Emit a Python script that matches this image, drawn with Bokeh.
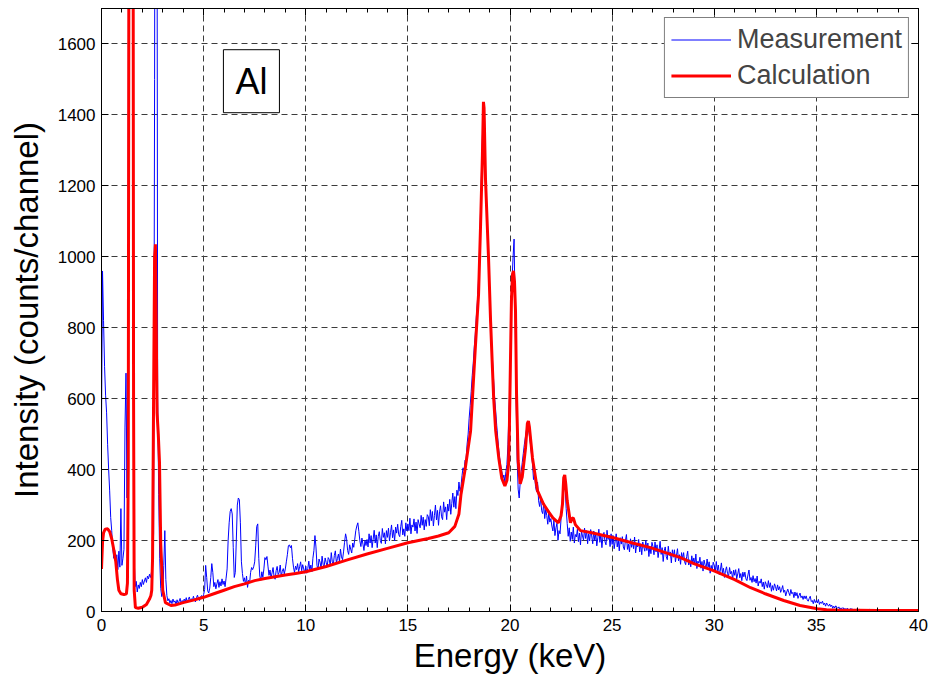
import numpy as np
from bokeh.plotting import figure
from bokeh.models import (Range1d, LinearAxis, SingleIntervalTicker, Label,
                          Legend, LegendItem, ColumnDataSource)
from bokeh.embed import file_html
from bokeh.resources import INLINE

FONT = "Liberation Sans"

# Measured spectrum: one list per keV (channels of 0.05 keV)
measurement_segments = [
    [530, 960, 820, 690, 610, 560, 470, 400, 340, 265, 228, 180, 150, 172, 135, 160, 118, 170, 125, 290],
    [130, 150, 175, 520, 672, 320, 900, 3000, 6000, 6000, 4000, 1200, 150, 70, 85, 55, 75, 65, 82, 70],
    [90, 76, 86, 95, 82, 100, 92, 105, 96, 112, 125, 220, 1500, 4000, 3000, 600, 330, 150, 65, 42],
    [55, 130, 228, 90, 45, 30, 36, 24, 31, 22, 35, 26, 30, 20, 33, 24, 29, 37, 23, 31],
    [26, 35, 28, 39, 24, 34, 41, 29, 36, 31, 43, 33, 27, 39, 46, 36, 31, 41, 45, 38],
    [48, 62, 130, 96, 58, 52, 66, 96, 135, 110, 70, 82, 64, 78, 90, 68, 84, 72, 92, 76],
    [86, 70, 94, 120, 200, 250, 282, 290, 275, 180, 96, 110, 200, 300, 320, 315, 250, 140, 107, 85],
    [95, 75, 100, 68, 88, 80, 110, 124, 118, 126, 140, 185, 240, 247, 150, 100, 88, 112, 96, 120],
    [152, 146, 155, 128, 102, 117, 95, 109, 124, 98, 91, 115, 127, 104, 110, 131, 99, 113, 121, 106],
    [120, 140, 160, 185, 188, 180, 186, 150, 125, 110, 128, 118, 135, 112, 126, 140, 115, 132, 120, 108],
    [128, 108, 121, 142, 115, 131, 112, 150, 172, 214, 182, 130, 118, 148, 139, 122, 156, 133, 127, 151],
    [138, 126, 152, 147, 129, 166, 140, 133, 158, 171, 137, 149, 162, 141, 176, 154, 146, 168, 195, 219],
    [205, 172, 161, 188, 176, 165, 193, 181, 204, 228, 241, 250, 226, 199, 183, 207, 190, 172, 201, 186],
    [203, 182, 219, 193, 214, 180, 204, 229, 193, 216, 180, 212, 225, 200, 192, 234, 209, 222, 191, 228],
    [209, 235, 199, 222, 244, 208, 230, 199, 238, 221, 246, 217, 211, 239, 257, 216, 233, 212, 250, 227],
    [247, 228, 263, 219, 244, 238, 261, 227, 252, 220, 259, 247, 236, 271, 243, 266, 230, 259, 240, 273],
    [268, 242, 287, 256, 282, 241, 271, 300, 258, 285, 243, 281, 298, 267, 259, 309, 280, 295, 259, 303],
    [283, 316, 274, 305, 334, 294, 324, 290, 342, 327, 365, 339, 352, 383, 405, 397, 427, 430, 472, 500],
    [545, 580, 620, 665, 700, 745, 780, 830, 870, 925, 1000, 1110, 1230, 1340, 1420, 1400, 1250, 1140, 1060, 990],
    [900, 830, 760, 700, 650, 600, 565, 525, 490, 455, 430, 410, 395, 375, 385, 365, 395, 415, 470, 570],
    [640, 800, 930, 1000, 1050, 850, 600, 430, 345, 320, 365, 395, 420, 445, 470, 490, 510, 525, 520, 495],
    [472, 445, 418, 372, 390, 352, 338, 365, 312, 296, 321, 284, 276, 305, 262, 288, 271, 246, 279, 252],
    [262, 241, 227, 258, 214, 236, 249, 201, 228, 219, 262, 300, 360, 380, 350, 290, 248, 212, 236, 198],
    [224, 203, 238, 193, 217, 210, 232, 197, 221, 188, 226, 213, 201, 235, 206, 228, 191, 219, 199, 231],
    [213, 191, 227, 200, 220, 185, 208, 232, 195, 217, 180, 211, 223, 197, 188, 229, 203, 215, 183, 219],
    [189, 214, 177, 199, 219, 182, 203, 171, 208, 190, 211, 182, 174, 200, 217, 175, 190, 168, 205, 181],
    [197, 177, 210, 165, 189, 182, 203, 168, 191, 160, 196, 182, 170, 201, 172, 193, 155, 183, 163, 195],
    [183, 160, 196, 168, 188, 152, 174, 198, 161, 180, 141, 171, 182, 155, 146, 184, 158, 168, 137, 174],
    [153, 174, 140, 158, 177, 143, 160, 133, 166, 149, 166, 140, 132, 155, 170, 131, 146, 126, 157, 136],
    [151, 132, 162, 121, 142, 136, 153, 122, 141, 114, 145, 132, 122, 148, 125, 140, 108, 130, 114, 139],
    [130, 112, 141, 115, 131, 104, 117, 137, 109, 122, 96, 115, 126, 107, 99, 124, 106, 113, 91, 117],
    [102, 118, 92, 106, 121, 95, 107, 87, 111, 98, 111, 92, 87, 103, 117, 88, 96, 82, 101, 84],
    [93, 80, 100, 72, 85, 80, 92, 70, 83, 63, 84, 76, 67, 87, 68, 81, 57, 73, 60, 78],
    [70, 58, 75, 61, 70, 54, 62, 73, 54, 60, 44, 55, 63, 53, 45, 62, 50, 54, 39, 55],
    [44, 53, 37, 45, 52, 39, 44, 34, 44, 36, 44, 33, 29, 37, 43, 28, 31, 22, 34, 25],
    [31, 24, 34, 20, 27, 23, 29, 19, 24, 15, 24, 19, 15, 21, 14, 18, 9, 15, 10, 16],
    [12, 9, 13, 7, 10, 8, 11, 6, 9, 5, 9, 7, 5, 8, 6, 8, 4, 6, 4, 7],
    [5, 4, 6, 3, 5, 4, 5, 3, 4, 5, 3, 4, 6, 3, 4, 5, 3, 4, 5, 3],
    [4, 5, 3, 4, 6, 3, 4, 3, 5, 4, 3, 5, 4, 3, 4, 6, 3, 4, 3, 5],
    [4, 3, 5, 4, 3, 4, 5, 3, 4, 3, 5, 4, 3, 4, 5, 3, 4, 3, 4, 5],
    [4],
]

# Calculated spectrum
calc_energy = [0.0, 0.05, 0.1, 0.18, 0.3, 0.4, 0.5, 0.6, 0.7, 0.78, 0.85, 0.95, 1.1, 1.22,
               1.27, 1.31, 1.34, 1.40, 1.48, 1.54, 1.57, 1.60, 1.66, 1.8, 2.0, 2.2, 2.35, 2.42,
               2.46, 2.50, 2.55, 2.60, 2.64, 2.68, 2.72, 2.78, 2.84, 2.90, 3.0, 3.13, 3.4, 3.6,
               4.0, 4.5, 5.0, 5.5, 6.0, 6.5, 7.0, 7.5, 8.0, 8.5, 9.0, 9.5, 10.0, 11.0, 12.0,
               13.0, 14.0, 15.0, 16.0, 16.5, 17.0, 17.3, 17.5, 17.6, 17.8, 18.07, 18.3, 18.46,
               18.56, 18.65, 18.7, 18.73, 18.8, 18.95, 19.05, 19.14, 19.2, 19.3, 19.45, 19.6,
               19.75, 19.85, 19.93, 19.97, 20.02, 20.07, 20.12, 20.17, 20.22, 20.27, 20.32,
               20.4, 20.5, 20.6, 20.76, 20.85, 20.9, 20.95, 21.1, 21.35, 21.64, 21.9, 22.1,
               22.37, 22.5, 22.57, 22.63, 22.68, 22.73, 22.8, 22.96, 23.03, 23.1, 23.2, 23.45,
               24.0, 25.07, 26.0, 26.88, 27.5, 28.35, 29.0, 29.96, 31.0, 31.78, 32.5, 33.4,
               34.2, 35.05, 35.5, 36.0, 38.0, 40.0]
calc_counts = [120, 195, 222, 232, 233, 225, 205, 175, 140, 90, 60, 50, 48, 50,
               80, 400, 1800, 6000, 6000, 2500, 600, 60, 11, 9, 12, 20, 35, 45,
               60, 150, 600, 1000, 1035, 800, 560, 500, 420, 190, 60, 25, 17, 18,
               25, 32, 40, 50, 60, 70, 78, 87, 93, 98, 103, 107, 112, 127, 145,
               162, 178, 194, 206, 213, 222, 240, 275, 330, 400, 509, 742, 894,
               1091, 1288, 1437, 1420, 1220, 995, 818, 686, 602, 509, 433, 375,
               354, 370, 416, 517, 697, 875, 950, 960, 930, 846, 613,
               425, 360, 380, 461, 530, 537, 520, 433, 340, 303, 280, 264,
               250, 270, 303, 377, 385, 360, 312, 250, 262, 264, 245, 228,
               222, 208, 193, 180, 168, 152, 135, 115, 90, 67, 50, 31,
               17, 8, 5, 4, 3, 3]

x_ticks_interval = 5
y_ticks_interval = 200

meas_x, meas_y = [], []
for k, seg in enumerate(measurement_segments):
    n = len(seg)
    for i, v in enumerate(seg):
        meas_x.append(k + i / n if n > 1 else float(k))
        meas_y.append(v)

src_m = ColumnDataSource(dict(x=meas_x, y=meas_y))
src_c = ColumnDataSource(dict(x=calc_energy, y=calc_counts))

p = figure(width=931, height=679, output_backend="svg", toolbar_location=None,
           x_range=Range1d(0, 40), y_range=Range1d(0, 1700),
           min_border_left=101, min_border_right=13, min_border_top=8, min_border_bottom=68)
p.background_fill_color = "white"
p.border_fill_color = "white"
p.outline_line_color = "black"
p.outline_line_width = 1

xt = SingleIntervalTicker(interval=x_ticks_interval, num_minor_ticks=5)
yt = SingleIntervalTicker(interval=y_ticks_interval, num_minor_ticks=0)

for ax in p.xaxis:
    ax.ticker = xt
for ax in p.yaxis:
    ax.ticker = yt

def style_axis(ax, labels=True, minor=True):
    ax.axis_line_color = "black"
    ax.major_tick_in = 7
    ax.major_tick_out = 0
    ax.minor_tick_in = 4 if minor else 0
    ax.minor_tick_out = 0
    ax.major_tick_line_color = "black"
    ax.minor_tick_line_color = "black" if minor else None
    ax.major_label_text_font = FONT
    ax.major_label_text_font_size = "17px" if labels else "0px"
    ax.major_label_text_color = "black" if labels else None
    ax.axis_label_text_font = FONT
    ax.axis_label_text_font_style = "normal"
    ax.axis_label_text_font_size = "33px"
    ax.axis_label_text_color = "black"

style_axis(p.xaxis[0])
style_axis(p.yaxis[0], minor=False)
p.xaxis[0].axis_label = "Energy (keV)"
p.yaxis[0].axis_label = "Intensity (counts/channel)"
p.xaxis[0].major_label_standoff = 7
p.xaxis[0].axis_label_standoff = 3
p.yaxis[0].major_label_standoff = 6
p.yaxis[0].axis_label_standoff = 10

top = LinearAxis(ticker=xt, major_label_standoff=0)
style_axis(top, labels=False)
p.add_layout(top, "above")
right = LinearAxis(ticker=yt, major_label_standoff=0)
style_axis(right, labels=False, minor=False)
p.add_layout(right, "right")

for g in (p.xgrid[0], p.ygrid[0]):
    g.grid_line_color = "#3c3c3c"
    g.grid_line_dash = "6 4"
    g.grid_line_width = 1
p.xgrid[0].ticker = xt
p.ygrid[0].ticker = yt

r_m = p.line("x", "y", source=src_m, line_color="#0000ff", line_width=1)
r_c = p.line("x", "y", source=src_c, line_color="#ff0000", line_width=3)

lab = Label(x=7.34, y=1495, text="Al", text_font=FONT, text_font_size="36px",
            text_align="center", text_baseline="middle", text_color="black",
            border_line_color="black", border_line_width=1,
            background_fill_color="white", padding=(12, 11))
p.add_layout(lab)

legend = Legend(items=[LegendItem(label="Measurement", renderers=[r_m]),
                       LegendItem(label="Calculation", renderers=[r_c])],
                location="top_right", label_text_font=FONT, label_text_font_size="27px",
                glyph_width=60, glyph_height=29, label_height=29, spacing=5,
                padding=6, margin=9, label_standoff=6,
                border_line_color="black", border_line_width=1,
                background_fill_color="white", background_fill_alpha=1)
p.add_layout(legend)

open("out.html", "w").write(file_html(p, INLINE))
